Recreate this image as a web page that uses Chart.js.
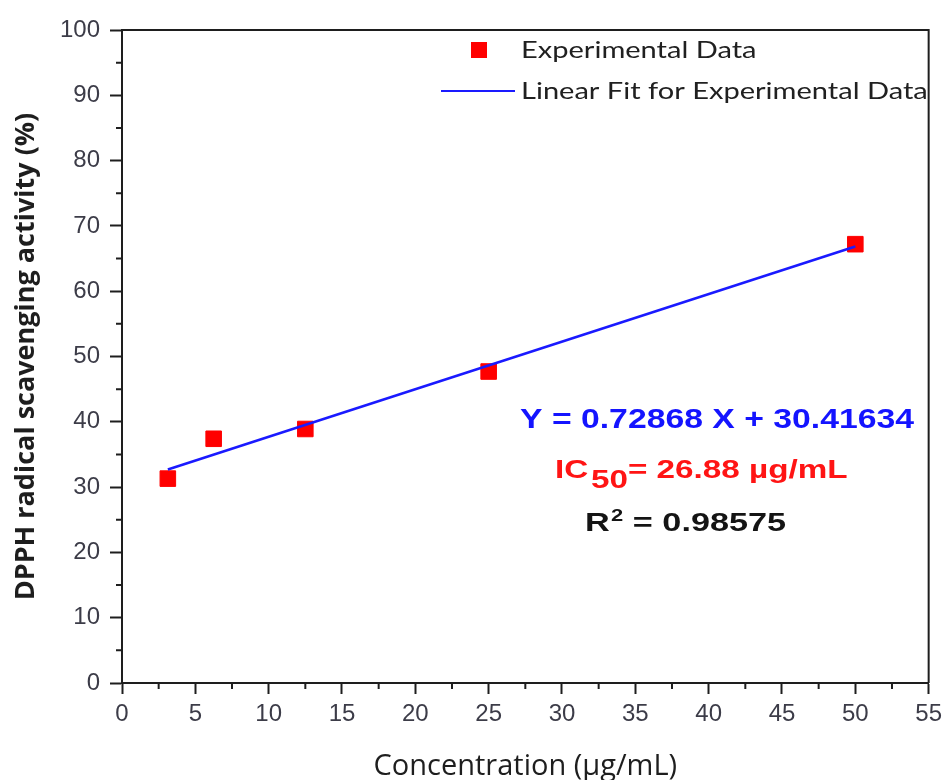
<!DOCTYPE html>
<html lang="en">
<head>
<meta charset="UTF-8">
<title>DPPH radical scavenging activity</title>
<script src="https://cdn.jsdelivr.net/npm/chart.js"></script>
<style>
  html, body { margin: 0; padding: 0; background: #fff; }
  #wrap { width: 948px; height: 780px; }
</style>
</head>
<body>
<div id="wrap"><canvas id="dpphChart"></canvas></div>
<script>
  // measured points
  const concentration = [3.125, 6.25, 12.5, 25, 50];
  const scavenging = [31.3, 37.4, 38.9, 47.7, 67.2];

  // fitted line end points (Y = 0.72868 X + 30.41634)
  const fitX = [3.125, 50];
  const fitY = [32.69, 66.85];

  const xTicks = [0, 5, 10, 15, 20, 25, 30, 35, 40, 45, 50, 55];
  const xMinor = [2.5, 7.5, 12.5, 17.5, 22.5, 27.5, 32.5, 37.5, 42.5, 47.5, 52.5];
  const yTicks = [0, 10, 20, 30, 40, 50, 60, 70, 80, 90, 100];
  const yMinor = [5, 15, 25, 35, 45, 55, 65, 75, 85, 95];

  const seriesLabels = ['Experimental Data', 'Linear Fit for Experimental Data'];
  const eqText = 'Y = 0.72868 X + 30.41634';
  const icText = ['IC', '50', '= 26.88 \u00b5g/mL'];
  const r2Text = ['R', '2', ' = 0.98575'];

  const AXIS = '#1e1e1e';
  const TICK_TEXT = '#3c3c48';

  // box frame, minor ticks, in-plot legend and the fit annotations
  const extras = {
    id: 'extras',
    afterDraw(chart) {
      const { ctx, chartArea: a, scales: { x, y } } = chart;
      ctx.save();
      ctx.strokeStyle = AXIS;
      ctx.lineWidth = 2;
      ctx.beginPath();
      ctx.moveTo(a.left, a.top);
      ctx.lineTo(a.right, a.top);
      ctx.lineTo(a.right, a.bottom);
      ctx.stroke();

      ctx.beginPath();
      xMinor.forEach(v => {
        const px = x.getPixelForValue(v);
        ctx.moveTo(px, a.bottom);
        ctx.lineTo(px, a.bottom + 6);
      });
      yMinor.forEach(v => {
        const py = y.getPixelForValue(v);
        ctx.moveTo(a.left, py);
        ctx.lineTo(a.left - 6, py);
      });
      ctx.stroke();

      // text helper: widened horizontally
      const wide = (sx, x0, y0, fn) => {
        ctx.save();
        ctx.translate(x0, y0);
        ctx.scale(sx, 1);
        fn();
        ctx.restore();
      };

      // legend
      const pts = chart.data.datasets[0];
      const fit = chart.data.datasets[1];
      ctx.fillStyle = pts.backgroundColor;
      ctx.fillRect(471, 42, 16, 16);
      ctx.strokeStyle = fit.borderColor;
      ctx.lineWidth = 2;
      ctx.beginPath();
      ctx.moveTo(441, 91);
      ctx.lineTo(515, 91);
      ctx.stroke();
      ctx.fillStyle = '#202020';
      ctx.font = '24px Lato, "Open Sans", sans-serif';
      ctx.textBaseline = 'middle';
      wide(1.21, 521, 50, () => ctx.fillText(pts.label, 0, 0));
      wide(1.21, 521, 91, () => ctx.fillText(fit.label, 0, 0));

      // equation, IC50 and R^2
      ctx.textBaseline = 'alphabetic';
      ctx.font = 'bold 27px "Liberation Sans", Arial, sans-serif';
      ctx.fillStyle = '#1414ff';
      wide(1.25, 520, 428, () => ctx.fillText(eqText, 0, 0));

      ctx.font = 'bold 25px "Liberation Sans", Arial, sans-serif';
      ctx.fillStyle = '#ff1414';
      wide(1.33, 555, 478, () => {
        let cx = 0;
        ctx.fillText(icText[0], cx, 0);
        cx += ctx.measureText(icText[0]).width + 2;
        ctx.fillText(icText[1], cx, 10);
        cx += ctx.measureText(icText[1]).width;
        ctx.fillText(icText[2], cx, 0);
      });

      ctx.fillStyle = '#141414';
      wide(1.37, 585, 531, () => {
        let cx = 0;
        ctx.fillText(r2Text[0], cx, 0);
        cx += ctx.measureText(r2Text[0]).width + 1;
        ctx.font = 'bold 16px "Liberation Sans", Arial, sans-serif';
        ctx.fillText(r2Text[1], cx, -10);
        cx += ctx.measureText(r2Text[1]).width;
        ctx.font = 'bold 25px "Liberation Sans", Arial, sans-serif';
        ctx.fillText(r2Text[2], cx, 0);
      });
      ctx.restore();
    }
  };

  new Chart(document.getElementById('dpphChart'), {
    type: 'scatter',
    data: {
      datasets: [
        {
          label: seriesLabels[0],
          data: concentration.map((c, i) => ({ x: c, y: scavenging[i] })),
          backgroundColor: '#ff0000',
          borderColor: '#ff0000',
          pointStyle: 'rect',
          pointRadius: 11,
          pointHoverRadius: 11,
          order: 1
        },
        {
          label: seriesLabels[1],
          data: fitX.map((c, i) => ({ x: c, y: fitY[i] })),
          showLine: true,
          borderColor: '#1a1aff',
          backgroundColor: '#1a1aff',
          borderWidth: 2.5,
          pointRadius: 0,
          order: 0
        }
      ]
    },
    options: {
      responsive: true,
      maintainAspectRatio: false,
      animation: false,
      layout: { padding: { left: 0, right: 19, top: 30, bottom: 0 } },
      plugins: {
        legend: { display: false },
        tooltip: { enabled: false }
      },
      scales: {
        x: {
          type: 'linear',
          min: 0,
          max: 55,
          afterBuildTicks: s => { s.ticks = xTicks.map(v => ({ value: v })); },
          afterFit: s => { s.height = 97; },
          border: { color: AXIS, width: 2 },
          grid: { drawOnChartArea: false, drawTicks: true, tickLength: 11, tickColor: AXIS, tickWidth: 2 },
          ticks: {
            color: TICK_TEXT,
            padding: 6,
            maxRotation: 0,
            font: { family: '"Liberation Sans", Arial, sans-serif', size: 24 }
          },
          title: {
            display: true,
            text: 'Concentration (\u00b5g/mL)',
            color: '#1e1e1e',
            font: { family: '"Open Sans", Lato, sans-serif', size: 29, weight: 500, lineHeight: 1 },
            padding: { top: 0, bottom: -1 }
          }
        },
        y: {
          type: 'linear',
          min: 0,
          max: 100,
          afterBuildTicks: s => { s.ticks = yTicks.map(v => ({ value: v })); },
          afterFit: s => { s.width = 122; },
          border: { color: AXIS, width: 2 },
          grid: { drawOnChartArea: false, drawTicks: true, tickLength: 12, tickColor: AXIS, tickWidth: 2 },
          ticks: {
            color: TICK_TEXT,
            padding: 10,
            font: { family: '"Liberation Sans", Arial, sans-serif', size: 24 }
          },
          title: {
            display: true,
            text: 'DPPH radical scavenging activity (%)',
            color: '#1e1e1e',
            font: { family: '"Open Sans", Lato, sans-serif', size: 27, weight: 'bold', lineHeight: 1 },
            padding: { top: 13, bottom: 0 }
          }
        }
      }
    },
    plugins: [extras]
  });
</script>
</body>
</html>
